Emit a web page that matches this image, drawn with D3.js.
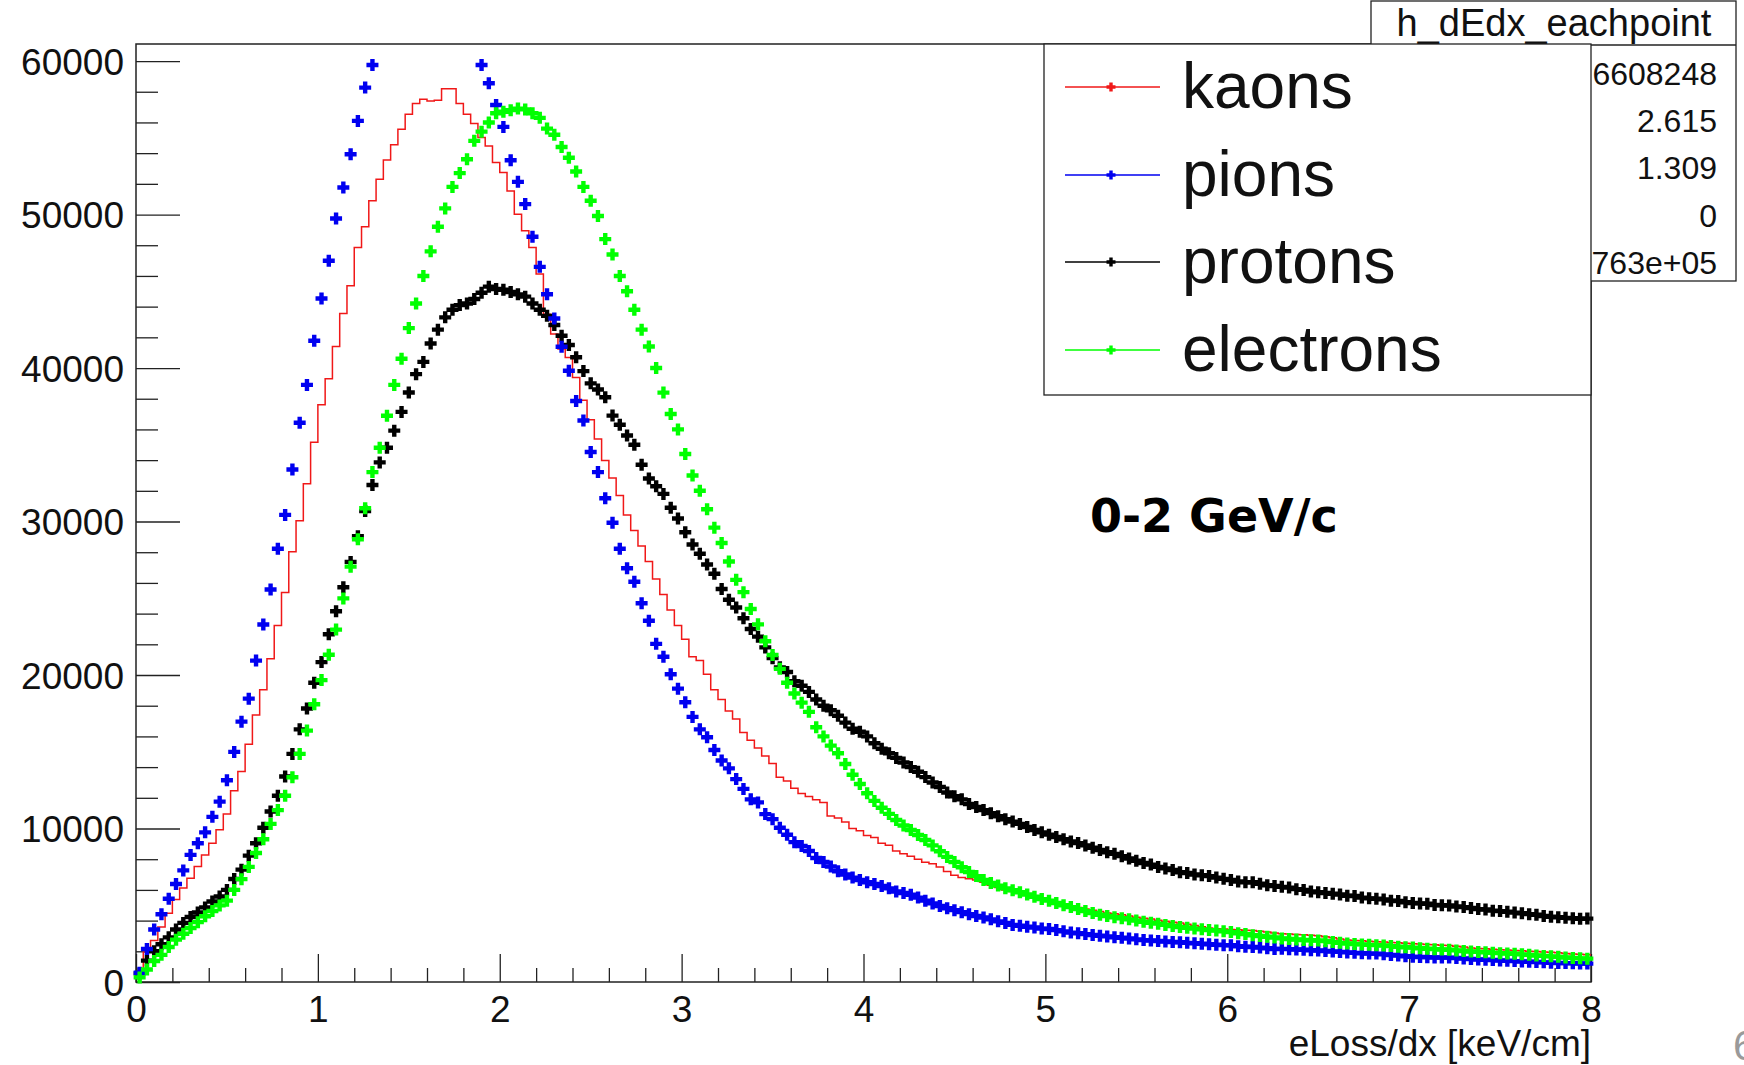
<!DOCTYPE html>
<html>
<head>
<meta charset="utf-8">
<script src="https://cdn.jsdelivr.net/npm/d3@7"></script>
<style>
  body { margin: 0; background: #fff; }
  svg { display: block; font-family: "Liberation Sans", Arial, sans-serif; }
</style>
</head>
<body>
<script>
const width = 1744;
const height = 1065;
const frame = {left: 136, right: 1591, top: 44, bottom: 982};

// binning of h_dEdx_eachpoint : 200 bins between 0 and 8 keV/cm
const binLow = 0;
const binHigh = 8;
const nBins = 200;

const xTicks = [0, 1, 2, 3, 4, 5, 6, 7, 8];
const yTicks = [0, 10000, 20000, 30000, 40000, 50000, 60000];
const xTitle = "eLoss/dx [keV/cm]";
const momentumLabel = "0-2 GeV/c";
const statsTitle = "h_dEdx_eachpoint";
const statsValues = ["6608248", "2.615", "1.309", "0", "763e+05"];
const pageNumber = "6";

const names = ["kaons", "pions", "protons", "electrons"];
const colors = {kaons: "#f01818", pions: "#0000f0", protons: "#000000", electrons: "#00ff00"};

const kaons = [
  680, 1950, 2710, 3590, 4480, 5370, 6130, 6760, 7520, 8280,
  9040, 9920, 10940, 12460, 13720, 15490, 17390, 19040, 21060, 23220,
  25370, 28030, 30050, 32460, 35160, 37600, 39300, 41400, 43560, 45360,
  47850, 49200, 50890, 52300, 53560, 54540, 55560, 56530, 57230, 57510,
  57400, 57450, 58200, 58200, 57230, 56530, 55930, 55020, 54470, 53390,
  52740, 51540, 50020, 48940, 47850, 46120, 43510, 42210, 41240, 40690,
  39390, 37900, 36630, 35370, 33970, 32840, 31700, 30430, 29420, 28410,
  27390, 26250, 25240, 24230, 23220, 22330, 21190, 20940, 20050, 19040,
  18410, 17650, 17140, 16250, 15750, 15240, 14730, 14230, 13340, 13090,
  12630, 12280, 12080, 11870, 11700, 10810, 10680, 10430, 10000, 9850,
  9540, 9420, 9040, 8910, 8530, 8350, 8200, 8000, 7800, 7700,
  7500, 7200, 6950, 6800, 6720, 6650, 6500, 6300, 6150, 6000,
  5900, 5780, 5650, 5550, 5420, 5350, 5200, 5080, 4950, 4850,
  4750, 4680, 4600, 4500, 4450, 4380, 4300, 4220, 4150, 4100,
  4020, 3950, 3900, 3840, 3760, 3680, 3600, 3520, 3470, 3450,
  3420, 3400, 3370, 3350, 3300, 3250, 3200, 3150, 3130, 3100,
  3080, 3050, 3020, 2950, 2880, 2800, 2740, 2700, 2680, 2650,
  2620, 2600, 2580, 2550, 2520, 2500, 2470, 2450, 2420, 2400,
  2380, 2330, 2280, 2220, 2180, 2160, 2130, 2100, 2080, 2060,
  2040, 2010, 1980, 1960, 1940, 1900, 1860, 1830, 1800, 1780
];

const pions = [
  600, 2150, 3420, 4410, 5420, 6380, 7270, 8280, 9040, 9750,
  10760, 11750, 13140, 14990, 16960, 18460, 20940, 23290, 25570, 28230,
  30430, 33390, 36430, 38900, 41780, 44530, 46990, 49740, 51760, 53930,
  56100, 58270, 59740, 62300, 64500, 66400, 68000, 69300, 70200, 70800,
  71000, 70700, 69900, 68600, 66700, 64300, 61900, 59740, 58550, 57140,
  55710, 53540, 52130, 50680, 48550, 46590, 44810, 43230, 41390, 39820,
  37850, 36580, 34530, 33220, 31520, 29920, 28230, 26960, 26080, 24680,
  23540, 22030, 21190, 20050, 19110, 18230, 17270, 16460, 15950, 15110,
  14430, 13920, 13220, 12580, 11900, 11700, 10940, 10610, 10050, 9590,
  9110, 8860, 8530, 8080, 7820, 7520, 7220, 7000, 6800, 6650,
  6500, 6380, 6250, 6100, 5900, 5800, 5680, 5500, 5300, 5120,
  4950, 4800, 4680, 4550, 4420, 4300, 4200, 4080, 3950, 3850,
  3720, 3660, 3600, 3550, 3480, 3450, 3380, 3300, 3220, 3180,
  3120, 3060, 3010, 2970, 2920, 2880, 2830, 2780, 2730, 2700,
  2670, 2640, 2610, 2590, 2550, 2520, 2490, 2460, 2430, 2400,
  2390, 2330, 2300, 2280, 2240, 2200, 2150, 2160, 2140, 2120,
  2100, 2070, 2050, 2020, 1990, 1960, 1930, 1900, 1870, 1850,
  1850, 1800, 1760, 1720, 1680, 1640, 1630, 1620, 1600, 1600,
  1590, 1560, 1530, 1500, 1470, 1450, 1430, 1400, 1380, 1360,
  1340, 1320, 1300, 1280, 1250, 1240, 1230, 1220, 1210, 1200
];

const protons = [
  560, 1390, 2000, 2460, 2910, 3420, 3850, 4230, 4530, 4860,
  5240, 5570, 6000, 6710, 7320, 8230, 9040, 10050, 11110, 12130,
  13390, 14860, 16460, 17820, 19500, 20840, 22660, 24150, 25720, 27370,
  29040, 30680, 32380, 33850, 34810, 35920, 37140, 38410, 39600, 40400,
  41600, 42500, 43300, 43800, 44100, 44200, 44500, 44900, 45300, 45150,
  45100, 44950, 44800, 44650, 44200, 43800, 43400, 42800, 42100, 41500,
  40700, 39800, 39000, 38600, 38100, 36900, 36300, 35600, 35000, 33700,
  32800, 32300, 31800, 30900, 30200, 29300, 28500, 27900, 27200, 26600,
  25600, 24900, 24400, 23700, 23000, 22500, 21800, 21100, 20500, 20200,
  19600, 19300, 18900, 18400, 18000, 17700, 17350, 16900, 16500, 16300,
  16000, 15550, 15200, 14900, 14600, 14300, 14000, 13700, 13350, 13000,
  12700, 12350, 12100, 11900, 11600, 11400, 11200, 11000, 10800, 10600,
  10450, 10300, 10100, 9900, 9750, 9600, 9450, 9300, 9150, 9050,
  8900, 8750, 8600, 8450, 8350, 8200, 8050, 7900, 7750, 7650,
  7500, 7400, 7300, 7150, 7100, 7000, 6950, 6900, 6800, 6720,
  6650, 6550, 6500, 6500, 6400, 6300, 6250, 6200, 6150, 6050,
  6000, 5900, 5850, 5800, 5750, 5700, 5620, 5600, 5500, 5450,
  5420, 5380, 5300, 5280, 5200, 5150, 5120, 5100, 5020, 5000,
  4980, 4920, 4880, 4820, 4750, 4720, 4650, 4620, 4580, 4520,
  4480, 4420, 4380, 4300, 4250, 4220, 4180, 4150, 4120, 4130
];

const electrons = [
  300, 810, 1370, 1770, 2280, 2760, 3140, 3520, 3900, 4280,
  4630, 4990, 5300, 6000, 6700, 7500, 8400, 9300, 10300, 11200,
  12130, 13340, 14860, 16380, 18100, 19670, 21320, 22960, 24990, 27060,
  28840, 30860, 33220, 34810, 36890, 38900, 40600, 42600, 44200, 46000,
  47600, 49200, 50400, 51800, 52700, 53600, 54800, 55400, 56000, 56600,
  56700, 56800, 56900, 56850, 56600, 56300, 55600, 55200, 54400, 53700,
  52800, 51800, 50900, 49900, 48400, 47400, 46000, 45000, 43800, 42500,
  41400, 40000, 38400, 37000, 36000, 34400, 33000, 32000, 30800, 29600,
  28600, 27400, 26200, 25400, 24300, 23300, 22200, 21300, 20400, 19500,
  18800, 18200, 17600, 16600, 16000, 15400, 14900, 14200, 13500, 12900,
  12300, 11800, 11350, 10950, 10550, 10200, 9900, 9580, 9250, 8900,
  8520, 8150, 7820, 7480, 7170, 6900, 6650, 6450, 6280, 6100,
  5980, 5850, 5700, 5550, 5400, 5300, 5150, 5000, 4880, 4750,
  4620, 4500, 4380, 4300, 4220, 4150, 4080, 4000, 3930, 3860,
  3800, 3720, 3650, 3580, 3530, 3480, 3430, 3380, 3350, 3300,
  3250, 3180, 3120, 3050, 3000, 2950, 2900, 2840, 2800, 2770,
  2740, 2720, 2700, 2660, 2600, 2550, 2510, 2480, 2450, 2420,
  2400, 2380, 2340, 2300, 2260, 2240, 2200, 2170, 2140, 2120,
  2100, 2060, 2020, 1990, 1960, 1940, 1910, 1880, 1860, 1840,
  1800, 1770, 1730, 1700, 1670, 1640, 1600, 1570, 1540, 1520
];

const series = {kaons, pions, protons, electrons};

const binWidth = (binHigh - binLow) / nBins;
const yMax = 1.05 * d3.max(kaons);

const x = d3.scaleLinear().domain([binLow, binHigh]).range([frame.left, frame.right]);
const y = d3.scaleLinear().domain([0, yMax]).range([frame.bottom, frame.top]);

const svg = d3.select("body").append("svg").attr("width", width).attr("height", height);

svg.append("clipPath").attr("id", "frameClip")
  .append("rect")
  .attr("x", frame.left).attr("y", frame.top)
  .attr("width", frame.right - frame.left).attr("height", frame.bottom - frame.top);

// axes: ticks point inside the frame, like ROOT
const xMinor = d3.range(0, 8.001, 0.2).filter(v => Math.abs(v - Math.round(v)) > 1e-6);
const yMinor = d3.range(0, yMax, 2000).filter(v => v % 10000 !== 0);

const xAxis = g => g
  .attr("transform", `translate(0,${frame.bottom})`)
  .call(d3.axisBottom(x).tickValues(xTicks).tickSize(-28).tickFormat(d3.format("d")))
  .call(g => g.select(".domain").remove())
  .call(g => g.selectAll("line").attr("stroke", "#222").attr("stroke-width", 1.3))
  .call(g => g.selectAll("text").attr("y", 40).attr("dy", null)
    .attr("font-size", 37).attr("fill", "#111"));

const xAxisMinor = g => g
  .attr("transform", `translate(0,${frame.bottom})`)
  .call(d3.axisBottom(x).tickValues(xMinor).tickSize(-14).tickFormat(""))
  .call(g => g.select(".domain").remove())
  .call(g => g.selectAll("line").attr("stroke", "#222").attr("stroke-width", 1.3));

const yAxis = g => g
  .attr("transform", `translate(${frame.left},0)`)
  .call(d3.axisLeft(y).tickValues(yTicks).tickSize(-44).tickPadding(12).tickFormat(d3.format("d")))
  .call(g => g.select(".domain").remove())
  .call(g => g.selectAll("line").attr("stroke", "#222").attr("stroke-width", 1.3))
  .call(g => g.selectAll("text").attr("x", -12).attr("dy", "0.36em")
    .attr("font-size", 37).attr("fill", "#111"));

const yAxisMinor = g => g
  .attr("transform", `translate(${frame.left},0)`)
  .call(d3.axisLeft(y).tickValues(yMinor).tickSize(-22).tickFormat(""))
  .call(g => g.select(".domain").remove())
  .call(g => g.selectAll("line").attr("stroke", "#222").attr("stroke-width", 1.3));

svg.append("g").call(xAxisMinor);
svg.append("g").call(yAxisMinor);
svg.append("g").call(xAxis).attr("font-family", null);
svg.append("g").call(yAxis).attr("font-family", null);

svg.append("rect")
  .attr("x", frame.left).attr("y", frame.top)
  .attr("width", frame.right - frame.left).attr("height", frame.bottom - frame.top)
  .attr("fill", "none").attr("stroke", "#222").attr("stroke-width", 1.5);

// kaons : histogram outline
const stepPoints = kaons.map((v, i) => [binLow + i * binWidth, v]);
stepPoints.push([binHigh, kaons[kaons.length - 1]]);

const step = d3.line()
  .curve(d3.curveStepAfter)
  .x(d => x(d[0]))
  .y(d => y(d[1]));

svg.append("path")
  .datum(stepPoints)
  .attr("clip-path", "url(#frameClip)")
  .attr("fill", "none")
  .attr("stroke", colors.kaons)
  .attr("stroke-width", 1.5)
  .attr("d", step);

// full cross marker
const cross = (h, t) =>
  `M${-t},${-h}H${t}V${-t}H${h}V${t}H${t}V${h}H${-t}V${t}H${-h}V${-t}H${-t}Z`;

for (const name of ["protons", "pions", "electrons"]) {
  const pts = series[name]
    .map((v, i) => ({c: binLow + (i + 0.5) * binWidth, v}))
    .filter(d => d.v <= yMax);
  svg.append("g")
    .selectAll("path")
    .data(pts)
    .join("path")
    .attr("transform", d => `translate(${x(d.c)},${y(d.v)})`)
    .attr("d", cross(6, 2.2))
    .attr("fill", colors[name]);
}

// momentum label
svg.append("text")
  .attr("x", 1090).attr("y", 532)
  .attr("font-family", "'DejaVu Sans', sans-serif")
  .attr("font-weight", "bold")
  .attr("font-size", 46)
  .text(momentumLabel);

// x title
svg.append("text")
  .attr("x", frame.right).attr("y", 1056)
  .attr("text-anchor", "end")
  .attr("font-size", 37)
  .attr("fill", "#111")
  .text(xTitle);

// stats box (partly hidden by the legend)
const stats = svg.append("g");
stats.append("rect")
  .attr("x", 1371).attr("y", 1).attr("width", 365).attr("height", 280)
  .attr("fill", "#fff").attr("stroke", "#222").attr("stroke-width", 1.3);
stats.append("line")
  .attr("x1", 1371).attr("x2", 1736).attr("y1", 45).attr("y2", 45)
  .attr("stroke", "#222").attr("stroke-width", 1.3);
stats.append("text")
  .attr("x", 1554).attr("y", 36)
  .attr("text-anchor", "middle").attr("font-size", 38).attr("fill", "#111")
  .text(statsTitle);
stats.selectAll("text.val")
  .data(statsValues)
  .join("text")
  .attr("class", "val")
  .attr("x", 1717)
  .attr("y", (d, i) => 85 + i * 47.2)
  .attr("text-anchor", "end").attr("font-size", 32).attr("fill", "#111")
  .text(d => d);

// legend
const legend = svg.append("g");
legend.append("rect")
  .attr("x", 1044).attr("y", frame.top).attr("width", frame.right - 1044).attr("height", 351)
  .attr("fill", "#fff").attr("stroke", "#222").attr("stroke-width", 1.3);

const rowY = [87, 175, 262, 350];
names.forEach((name, i) => {
  const row = legend.append("g").attr("transform", `translate(0,${rowY[i]})`);
  row.append("line")
    .attr("x1", 1065).attr("x2", 1160)
    .attr("stroke", colors[name]).attr("stroke-width", 1.5);
  row.append("path")
    .attr("transform", "translate(1111,0)")
    .attr("d", cross(4.5, 1.7))
    .attr("fill", colors[name]);
  row.append("text")
    .attr("x", 1182).attr("y", 21)
    .attr("font-size", 64).attr("fill", "#111")
    .text(name);
});

// slide page number at the lower right corner (cut by the page edge)
svg.append("text")
  .attr("x", 1733).attr("y", 1060)
  .attr("font-size", 42).attr("fill", "#9a9a9a")
  .text(pageNumber);
</script>
</body>
</html>
